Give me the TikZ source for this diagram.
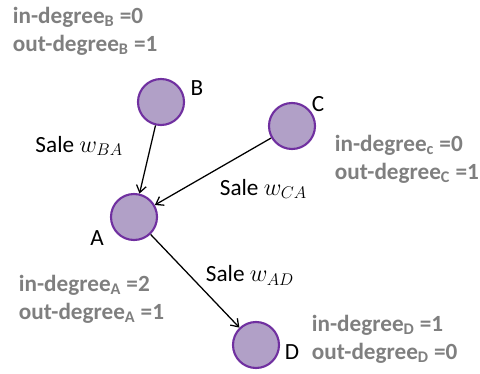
\documentclass[tikz,border=0pt]{standalone}
\usepackage{fontspec}
\setmainfont{Carlito}
\usepackage{xcolor}
\usetikzlibrary{arrows.meta}
\definecolor{nodefill}{HTML}{B1A0C7}
\definecolor{nodeline}{HTML}{7030A0}
\definecolor{degtext}{HTML}{7F7F7F}

\begin{document}
\begin{tikzpicture}[
x=0.025cm,y=-0.025cm,
>={Straight Barb[length=5pt,width=7pt]},
every node/.style={font=\fontsize{16.5}{20}\selectfont},
vertex/.style={circle,draw=nodeline,fill=nodefill,line width=1.5pt,minimum size=1.15cm,inner sep=0pt},
degree/.style={text=degtext,font=\fontsize{16.5}{20}\selectfont\bfseries,align=left,anchor=west},
sale/.style={->,line width=0.9pt}
]
\useasboundingbox (0,0) rectangle (480,374);

% Vertices
\node[vertex] (B) at (161,102) {};
\node[vertex] (C) at (292,126) {};
\node[vertex] (A) at (134,217) {};
\node[vertex] (D) at (256,345) {};

% Vertex names
\node (nB) at (197,88) {B};
\node (nC) at (318,104) {C};
\node (nA) at (97,238) {A};
\node (nD) at (292,352) {D};

% Degrees
\node[degree] (degB) at (8,31) {in-degree\textsubscript{B} =0\\out-degree\textsubscript{B} =1};
\node[degree] (degC) at (330,159) {in-degree\textsubscript{c} =0\\out-degree\textsubscript{C} =1};
\node[degree] (degA) at (14,299) {in-degree\textsubscript{A} =2\\out-degree\textsubscript{A} =1};
\node[degree] (degD) at (307,339) {in-degree\textsubscript{D} =1\\out-degree\textsubscript{D} =0};

% Sales
\draw[sale] (B) -- node[pos=0.3,left=16pt]{Sale $w_{BA}$} (A);
\draw[sale] (C) -- node[pos=0.45,below right=0pt,xshift=-3pt,yshift=-4pt]{Sale $w_{CA}$} (A);
\draw[sale] (A) -- node[pos=0.5,above right=0pt,xshift=4pt,yshift=-7pt]{Sale $w_{AD}$} (D);

\end{tikzpicture}
\end{document}
